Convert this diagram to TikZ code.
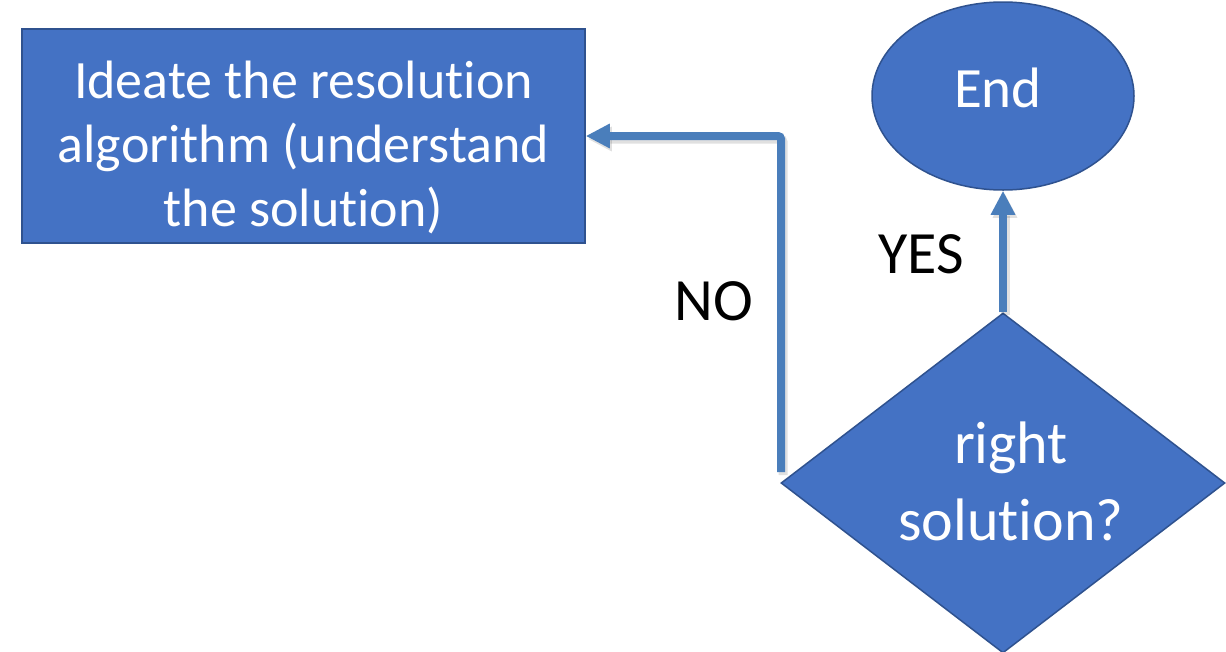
\documentclass[tikz,border=0pt]{standalone}
\usepackage{fontspec}
\setmainfont{Carlito}
\usetikzlibrary{shapes.geometric,arrows.meta}
\definecolor{boxfill}{HTML}{4472C4}
\definecolor{boxline}{HTML}{2F528F}
\definecolor{arrowc}{HTML}{4A7EBB}
\newcommand{\placetext}[3]{\makebox[0pt]{\hspace*{#1}\raisebox{#2}[0pt][0pt]{\begin{tabular}[t]{@{}c@{}}#3\end{tabular}}}}
\newcommand{\nlig}{\kern0pt{}}
\tikzset{
  shapebox/.style={fill=boxfill,draw=boxline,line width=1.5pt,text=white,inner sep=0pt},
  conn/.style={draw=arrowc,line width=8pt,rounded corners=3pt,-{Triangle[length=24pt,width=23pt]}},
  connshadow/.style={draw=black,draw opacity=0.12,line width=9pt,rounded corners=3pt,-{Triangle[length=24pt,width=23pt]},transform canvas={shift={(2pt,-3pt)}}},
  lbl/.style={text=black,anchor=base,inner sep=0pt,font=\fontsize{60}{72}\selectfont}
}
\begin{document}
\begin{tikzpicture}[x=1pt,y=-1pt]
\useasboundingbox (0,0) rectangle (1226,651);
\fill[white] (0,0) rectangle (1226,651);
\node[shapebox,rectangle,minimum width=563pt,minimum height=214pt,font=\fontsize{54}{64}\selectfont] (ideate) at (303.5,136)
  {\placetext{0pt}{38pt}{Ideate the resolut\nlig ion\\algorithm (understand\\the solut\nlig ion)}};
\node[shapebox,ellipse,minimum width=262pt,minimum height=188pt,font=\fontsize{57}{68}\selectfont] (endn) at (1003,96)
  {\placetext{-10pt}{-11pt}{End}};
\node[shapebox,diamond,shape aspect=1.306,minimum width=444pt,minimum height=340pt,font=\fontsize{60}{77}\selectfont] (dec) at (1003,483)
  {\placetext{16pt}{20pt}{right\\solut\nlig ion?}};
\coordinate (nostart) at (781,472);
\draw[connshadow] (nostart) |- (ideate.east);
\draw[connshadow] (dec.north) -- (endn.south);
\draw[conn] (nostart) |- (ideate.east);
\draw[conn] (dec.north) -- (endn.south);
\node[lbl] (nolbl) at (714,320) {NO};
\node[lbl] (yeslbl) at (921,273) {YES};
\end{tikzpicture}
\end{document}
